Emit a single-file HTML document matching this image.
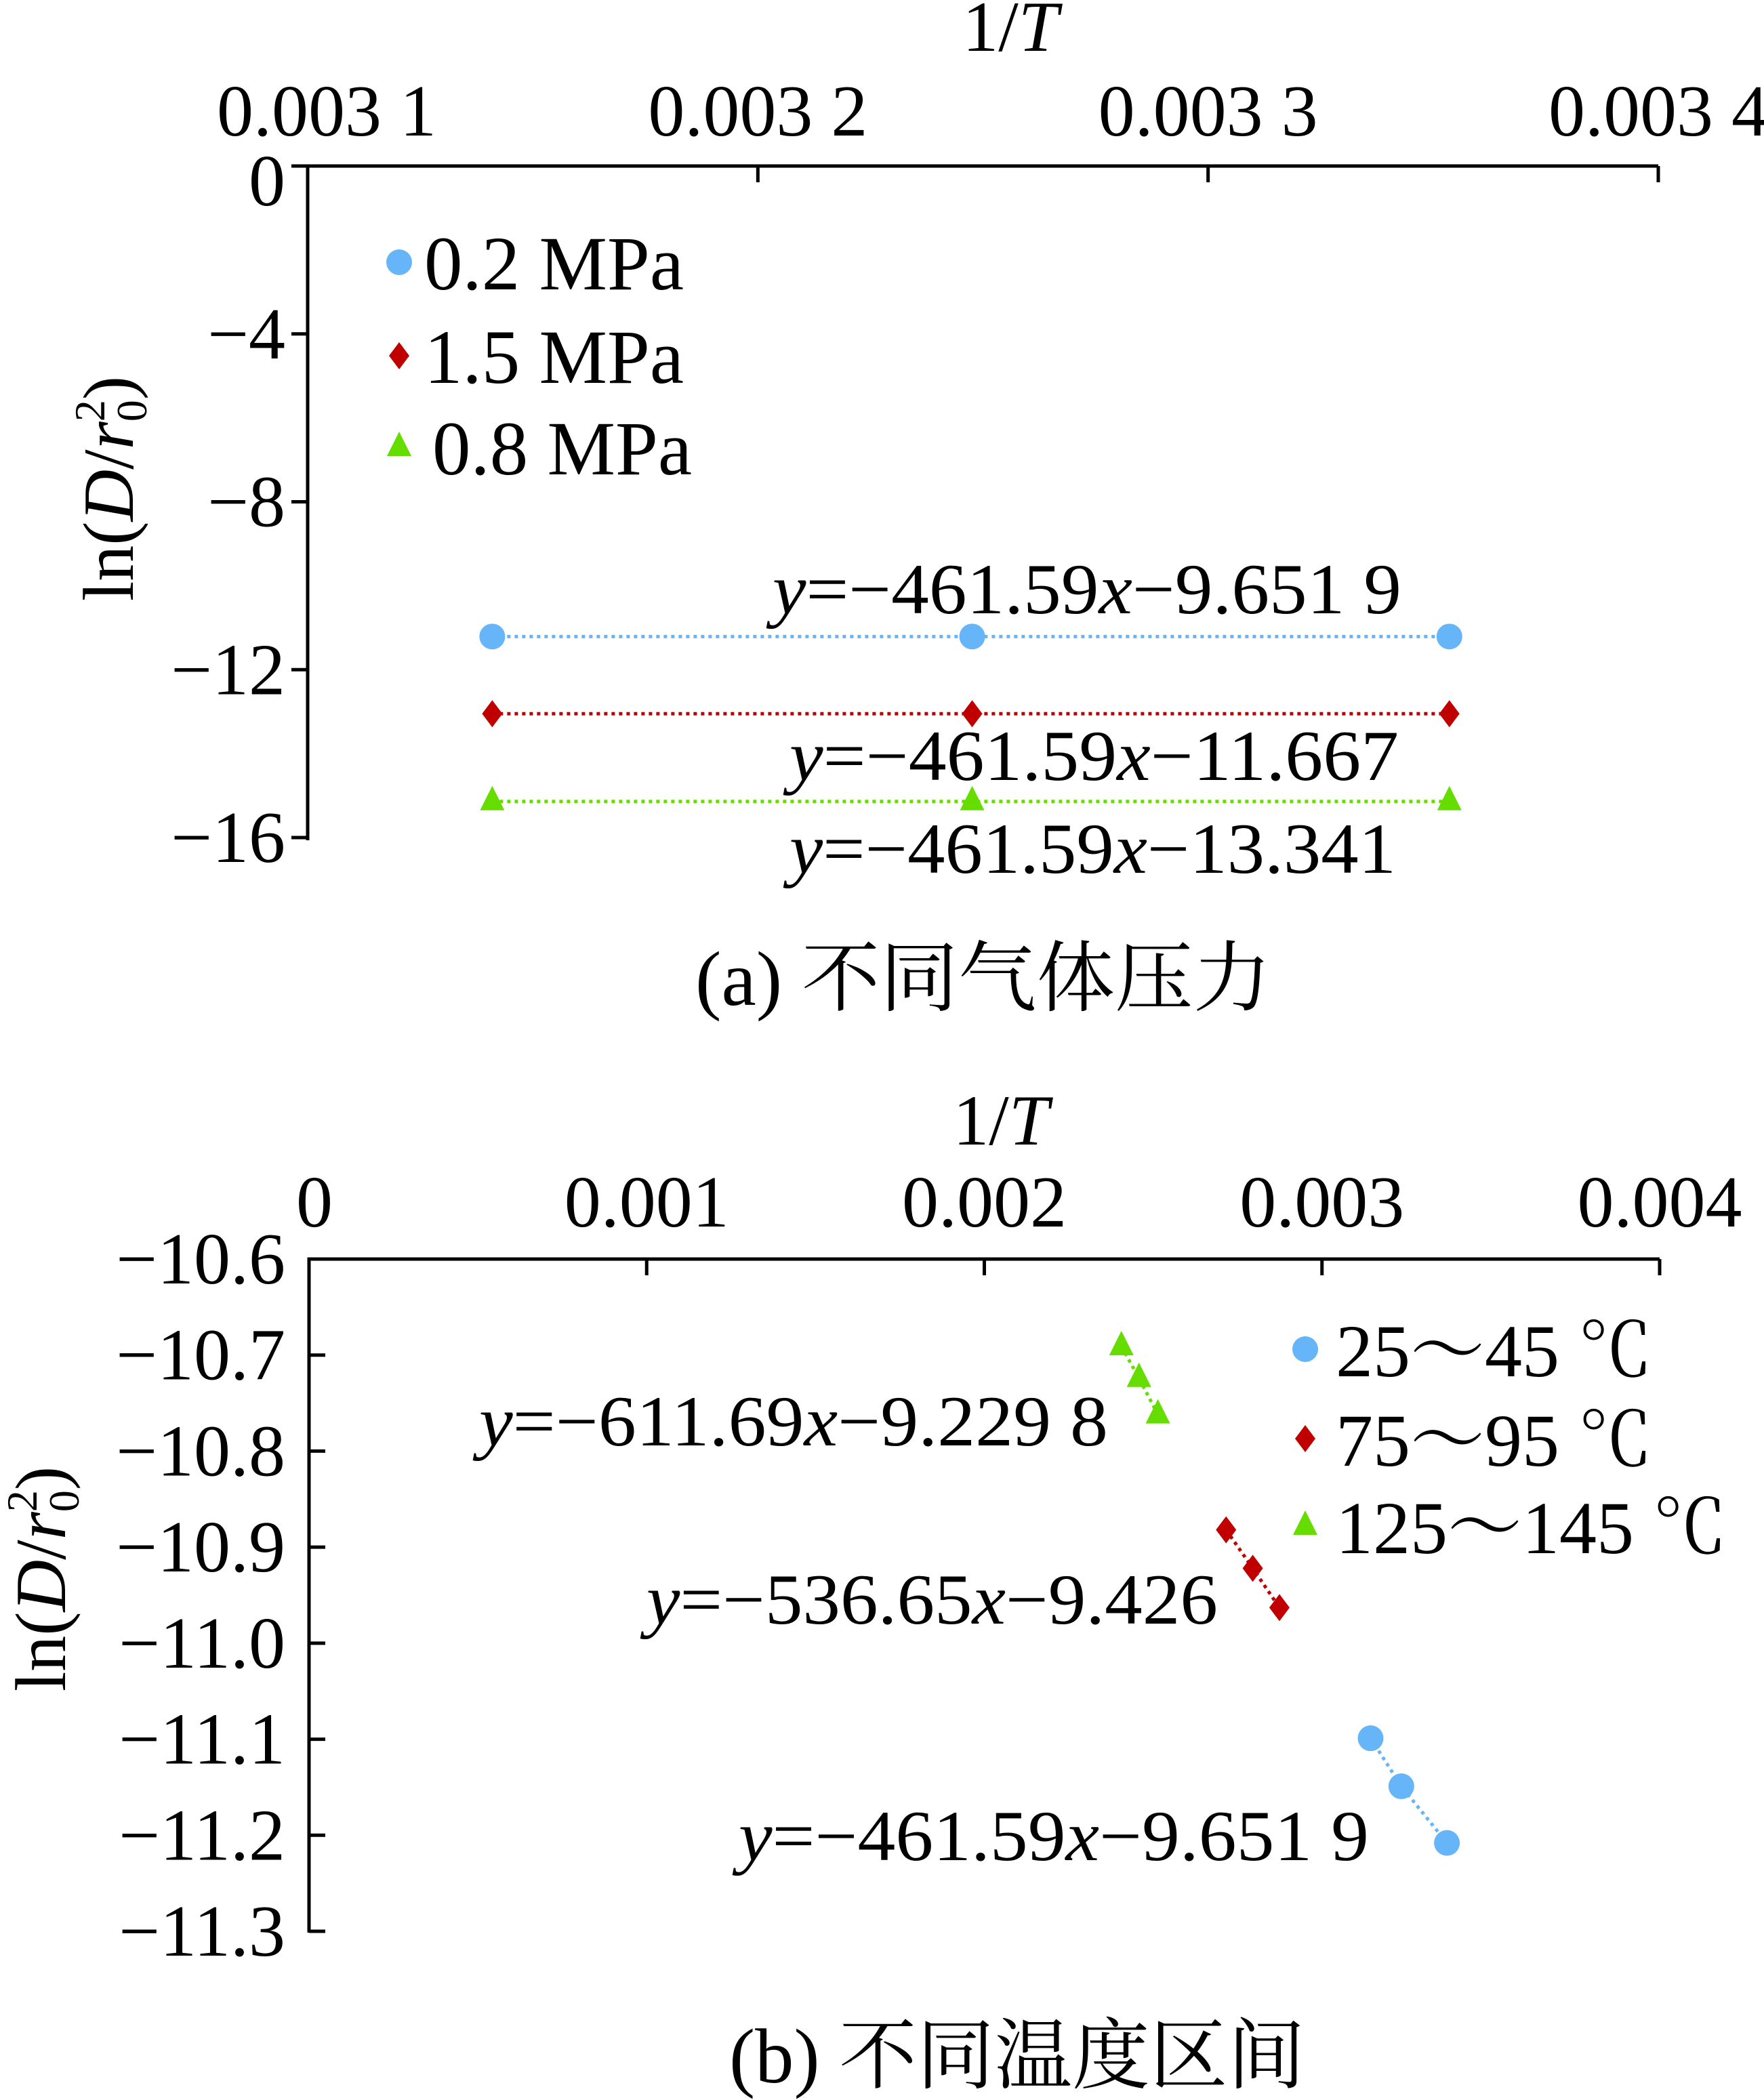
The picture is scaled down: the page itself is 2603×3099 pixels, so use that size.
<!DOCTYPE html>
<html><head><meta charset="utf-8"><style>
html,body{margin:0;padding:0;background:#fff}
svg{display:block}
text{font-family:"Liberation Serif","Noto Serif CJK SC",serif;fill:#000}
</style></head><body>
<svg id="chart" width="2603" height="3099" viewBox="0 0 2603 3099" xmlns="http://www.w3.org/2000/svg">
<g id="ga"></g>
<g id="gb"></g>
</svg>
<script>
// Chart (a) data
const aXTicks = [0.0031, 0.0032, 0.0033, 0.0034];
const aXTickLabels = ["0.003 1", "0.003 2", "0.003 3", "0.003 4"];
const aYTicks = [0, -4, -8, -12, -16];
const aYTickLabels = ["0", "\u22124", "\u22128", "\u221212", "\u221216"];
const aX = [0.003141, 0.0032476, 0.0033536];
const aBlue = [-11.21, -11.21, -11.21];
const aRed = [-13.05, -13.05, -13.05];
const aGreen = [-15.14, -15.14, -15.14];
const aLegend = ["0.2 MPa", "1.5 MPa", "0.8 MPa"];
// Chart (b) data
const bXTicks = [0, 0.001, 0.002, 0.003, 0.004];
const bXTickLabels = ["0", "0.001", "0.002", "0.003", "0.004"];
const bYTicks = [-10.6, -10.7, -10.8, -10.9, -11.0, -11.1, -11.2, -11.3];
const bYTickLabels = ["\u221210.6", "\u221210.7", "\u221210.8", "\u221210.9", "\u221211.0", "\u221211.1", "\u221211.2", "\u221211.3"];
const bGreenX = [0.002406, 0.002458, 0.002514];
const bGreenY = [-10.691, -10.724, -10.762];
const bRedX = [0.002716, 0.002795, 0.002874];
const bRedY = [-10.882, -10.922, -10.963];
const bBlueX = [0.003144, 0.003235, 0.003370];
const bBlueY = [-11.099, -11.149, -11.208];
const bLegend = ["25\uFF5E45 \u2103", "75\uFF5E95 \u2103", "125\uFF5E145 \u2103"];

const NS = "http://www.w3.org/2000/svg";
const BLUE = "#66b5f8", RED = "#c00000", GREEN = "#66dd00";
function mk(parent, tag, attrs, text) {
  const e = document.createElementNS(NS, tag);
  for (const k in attrs) e.setAttribute(k, attrs[k]);
  if (text !== undefined) e.textContent = text;
  parent.appendChild(e);
  return e;
}
function marker(g, shape, cx, cy, color) {
  let e;
  if (shape === "circle") e = mk(g, "circle", {cx: cx, cy: cy, r: 19, fill: color});
  else if (shape === "diamond") e = mk(g, "polygon", {points: `${cx},${cy-20} ${cx+15},${cy} ${cx},${cy+20} ${cx-15},${cy}`, fill: color});
  else e = mk(g, "polygon", {points: `${cx},${cy-23} ${cx+18},${cy+13} ${cx-18},${cy+13}`, fill: color});
  
  
  return e;
}
function series(g, xs, ys, sx, sy, shape, color, name) {
  const pts = xs.map((x, i) => `${sx(x)},${sy(ys[i])}`).join(" ");
  const l = mk(g, "polyline", {points: pts, fill: "none", stroke: color, "stroke-width": 5, "stroke-dasharray": "5 6"});
  
  
  xs.forEach((x, i) => marker(g, shape, sx(x), sy(ys[i]), color));
}
function txt(g, x, y, s, size, anchor, name, extra) {
  const t = mk(g, "text", Object.assign({x: x, y: y, "font-size": size, "text-anchor": anchor || "start"}, extra || {}), s);
  
  
  return t;
}
function eq(g, x, y, a, b, len, name) {
  const t = mk(g, "text", {x: x, y: y, "font-size": 106, textLength: len, lengthAdjust: "spacingAndGlyphs"});
  
  
  mk(t, "tspan", {"font-style": "italic"}, "y");
  mk(t, "tspan", {}, "=\u2212" + a);
  mk(t, "tspan", {"font-style": "italic"}, "x");
  mk(t, "tspan", {}, "\u2212" + b);
}
function ytitle(g, cx, cy) {
  const t = mk(g, "text", {x: 0, y: 0, "font-size": 106, "text-anchor": "middle", transform: `translate(${cx},${cy}) rotate(-90)`});
  
  
  mk(t, "tspan", {}, "ln(");
  mk(t, "tspan", {"font-style": "italic"}, "D");
  mk(t, "tspan", {}, "/");
  mk(t, "tspan", {"font-style": "italic"}, "r");
  mk(t, "tspan", {"font-size": 64, dy: -42}, "2");
  mk(t, "tspan", {"font-size": 64, dx: -32, dy: 62}, "0");
  mk(t, "tspan", {dy: -20}, ")");
}
function xtitle(g, cx, y) {
  const t = mk(g, "text", {x: cx, y: y, "font-size": 106, "text-anchor": "middle"});
  
  
  mk(t, "tspan", {}, "1/");
  mk(t, "tspan", {"font-style": "italic"}, "T");
}

// ---------- Chart A ----------
(function(){
  const g = document.getElementById("ga");
  const x0 = 454, x1 = 2447, y0 = 245, y1 = 1236;
  const sx = v => x0 + (v - 0.0031) / 0.0003 * (x1 - x0);
  const sy = v => y0 + (0 - v) / 16 * (y1 - y0);
  const ax = mk(g, "path", {d: `M${x0},${y1+4} L${x0},${y0} L${x1},${y0}`, fill: "none", stroke: "#000", "stroke-width": 5});
  
  
  aXTicks.forEach((v, i) => {
    const tk = mk(g, "line", {x1: sx(v), x2: sx(v), y1: y0, y2: y0 + 24, stroke: "#000", "stroke-width": 5});
    
    
    txt(g, sx(v) + (i === 0 ? 28 : 0), 200, aXTickLabels[i], 108, "middle", "x-tick-label");
  });
  aYTicks.forEach((v, i) => {
    const tk = mk(g, "line", {x1: x0 - 24, x2: x0, y1: sy(v), y2: sy(v), stroke: "#000", "stroke-width": 5});
    
    
    txt(g, 421, sy(v) + 36 + (i === 0 ? 22 : 0), aYTickLabels[i], 108, "end", "y-tick-label");
  });
  xtitle(g, 1491, 75);
  ytitle(g, 196, 721);
  series(g, aX, aBlue, sx, sy, "circle", BLUE, "0.2mpa");
  series(g, aX, aRed, sx, sy, "diamond", RED, "1.5mpa");
  series(g, aX, aGreen, sx, sy, "triangle", GREEN, "0.8mpa");
  const ly = [387, 525, 660], shapes = ["circle", "diamond", "triangle"], cols = [BLUE, RED, GREEN];
  aLegend.forEach((s, i) => {
    marker(g, shapes[i], 589, ly[i], cols[i]);
    txt(g, 626 + (i === 2 ? 12 : 0), ly[i] + 40, s, 113, "start", "legend-entry");
  });
  eq(g, 1140, 905, "461.59", "9.651 9", 928, "equation-0.2mpa");
  eq(g, 1165, 1151, "461.59", "11.667", 899, "equation-1.5mpa");
  eq(g, 1165, 1288, "461.59", "13.341", 895, "equation-0.8mpa");
  txt(g, 1451, 1483, "(a)  不同气体压力", 114, "middle", "caption-a", {textLength: 850, lengthAdjust: "spacingAndGlyphs"});
})();

// ---------- Chart B ----------
(function(){
  const g = document.getElementById("gb");
  const x0 = 456, x1 = 2449, y0 = 1858, y1 = 2850;
  const sx = v => x0 + v / 0.004 * (x1 - x0);
  const sy = v => y0 + (-10.6 - v) / 0.7 * (y1 - y0);
  const ax = mk(g, "path", {d: `M${x0},${y1+2} L${x0},${y0} L${x1},${y0}`, fill: "none", stroke: "#000", "stroke-width": 5});
  
  
  bXTicks.forEach((v, i) => {
    const tk = mk(g, "line", {x1: sx(v), x2: sx(v), y1: y0, y2: y0 + 24, stroke: "#000", "stroke-width": 5});
    
    
    txt(g, sx(v) + (i === 0 ? 8 : 0), 1810, bXTickLabels[i], 108, "middle", "x-tick-label");
  });
  bYTicks.forEach((v, i) => {
    const tk = mk(g, "line", {x1: x0, x2: x0 + 24, y1: sy(v), y2: sy(v), stroke: "#000", "stroke-width": 5});
    
    
    txt(g, 421, sy(v) + 36, bYTickLabels[i], 108, "end", "y-tick-label");
  });
  xtitle(g, 1477, 1689);
  ytitle(g, 96, 2330);
  series(g, bGreenX, bGreenY, sx, sy, "triangle", GREEN, "125-145c");
  series(g, bRedX, bRedY, sx, sy, "diamond", RED, "75-95c");
  series(g, bBlueX, bBlueY, sx, sy, "circle", BLUE, "25-45c");
  const ly = [1991, 2123, 2252], shapes = ["circle", "diamond", "triangle"], cols = [BLUE, RED, GREEN];
  bLegend.forEach((s, i) => {
    marker(g, shapes[i], 1926, ly[i], cols[i]);
    txt(g, 1971, ly[i] + 40, s, 110, "start", "legend-entry");
  });
  eq(g, 707, 2133, "611.69", "9.229 8", 928, "equation-125-145c");
  eq(g, 954, 2396, "536.65", "9.426", 843, "equation-75-95c");
  eq(g, 1090, 2745, "461.59", "9.651 9", 930, "equation-25-45c");
  txt(g, 1501, 3073, "(b)  不同温度区间", 114, "middle", "caption-b", {textLength: 850, lengthAdjust: "spacingAndGlyphs"});
})();
</script>
</body></html>
